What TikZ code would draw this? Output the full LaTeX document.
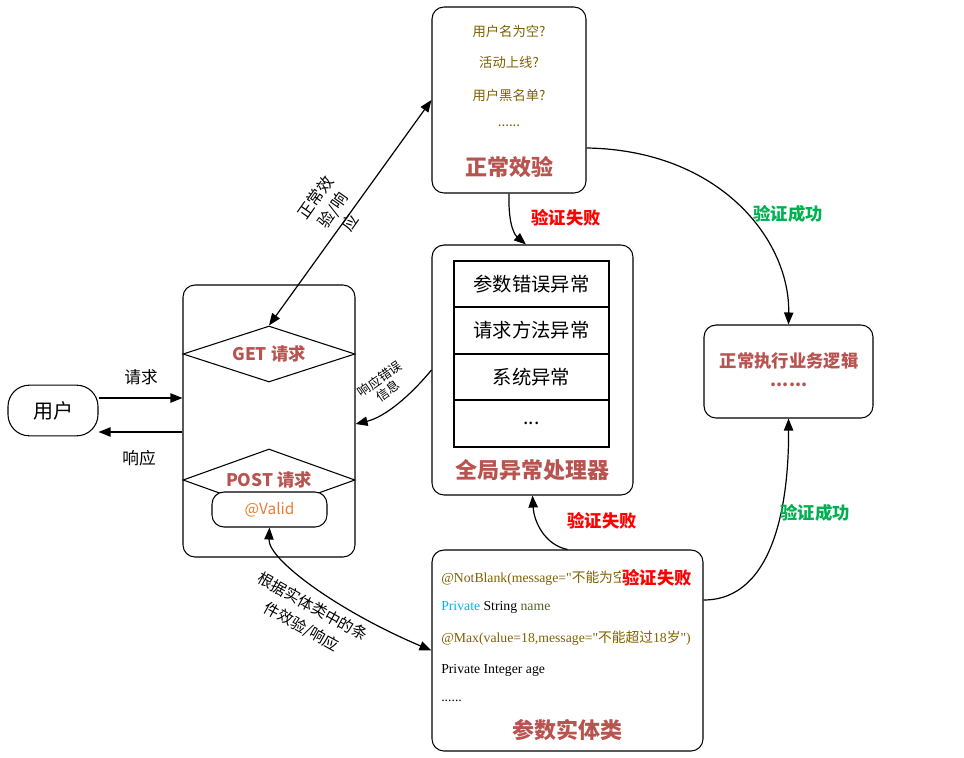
\documentclass[tikz,border=0pt]{standalone}
\usepackage{fontspec}
\setmainfont{Noto Sans CJK SC}
\newfontfamily\codefont{Liberation Serif}
\usetikzlibrary{arrows.meta,shapes.geometric,fit}
\definecolor{titlered}{HTML}{B85450}
\definecolor{failred}{HTML}{FF0000}
\definecolor{okgreen}{HTML}{00B050}
\definecolor{olivetxt}{HTML}{7F6000}
\definecolor{validorange}{HTML}{ED7D31}
\definecolor{privblue}{HTML}{00B0F0}
\definecolor{namegreen}{HTML}{4F6228}
\begin{document}
\begin{tikzpicture}[x=0.75pt,y=-0.75pt,
  box/.style={draw, rounded corners=9pt, inner sep=0pt, line width=0.8pt},
  cell/.style={draw, inner sep=0pt, line width=0.8pt},
  arr/.style={-{Triangle[length=9pt,width=7pt]}, line width=0.9pt},
  darr/.style={{Triangle[length=9pt,width=7pt]}-{Triangle[length=9pt,width=7pt]}, line width=0.9pt},
  boxtitle/.style={font=\fontsize{16.5}{18}\selectfont\bfseries, text=titlered, inner sep=0pt},
  smalltitle/.style={font=\fontsize{13}{15}\selectfont\bfseries, text=titlered, inner sep=0pt},
  fail/.style={font=\fontsize{13}{15}\selectfont\bfseries, text=failred, inner sep=0pt},
  ok/.style={font=\fontsize{13}{15}\selectfont\bfseries, text=okgreen, inner sep=0pt},
  checktxt/.style={font=\fontsize{10}{12}\selectfont, text=olivetxt, inner sep=0pt},
  celltxt/.style={font=\fontsize{14.5}{16}\selectfont, inner sep=0pt},
  lbl/.style={font=\fontsize{12.5}{14}\selectfont, inner sep=0pt},
  code/.style={font=\fontsize{10.3}{12}\selectfont\codefont, anchor=west, inner sep=0pt}]
\useasboundingbox (0,0) rectangle (964,757);

% ---- normal check box
\node[box, fit={(432,7) (586,193)}] (check) {};
\node[checktxt] (c1) at (509,31) {用户名为空?};
\node[checktxt] (c2) at (509,62) {活动上线?};
\node[checktxt] (c3) at (509,95) {用户黑名单?};
\node[checktxt] (c4) at (509,126) {......};
\node[boxtitle] (checkt) at (509,167) {正常效验};

% ---- global exception handler
\node[box, fit={(432,245) (633,495)}] (exc) {};
\node[cell, fit={(454,261) (609,307)}] (r1) {};
\node[cell, fit={(454,307) (609,354)}] (r2) {};
\node[cell, fit={(454,354) (609,400)}] (r3) {};
\node[cell, fit={(454,400) (609,447)}] (r4) {};
\node[celltxt] at (r1) {参数错误异常};
\node[celltxt] at (r2) {请求方法异常};
\node[celltxt] at (r3) {系统异常};
\node[celltxt] at (r4) {...};
\node[boxtitle] (exct) at (532,470) {全局异常处理器};

% ---- left controller box
\node[box, fit={(183,285) (355,557)}] (left) {};
\node[diamond, draw, line width=0.8pt, minimum width=129pt, minimum height=42pt, inner sep=0pt] (get) at (269,354) {};
\node[smalltitle] at (get) {GET 请求};
\node[diamond, draw, line width=0.8pt, minimum width=129pt, minimum height=46.5pt, inner sep=0pt] (post) at (269,480) {};
\node[smalltitle] at (post) {POST 请求};
\node[box, fill=white, fit={(212,492) (327,527)}] (valid) {};
\node[font=\fontsize{11.5}{13}\selectfont, text=validorange, inner sep=0pt] at (valid) {@Valid};

% ---- user
\node[draw, line width=0.8pt, rounded corners=16pt, minimum width=67.5pt, minimum height=38pt, inner sep=0pt,
      font=\fontsize{15}{17}\selectfont] (user) at (53,410.5) {用户};
\draw[arr] (user.east |- 0,398) -- (left.west |- 0,398);
\draw[arr] (left.west |- 0,432) -- (user.east |- 0,432);
\node[lbl] (req) at (141,377) {请求};
\node[lbl] (resp) at (139,458) {响应};

% ---- normal business logic
\node[box, fit={(704,325) (873,418)}] (normal) {};
\node[smalltitle] at (789,361) {正常执行业务逻辑};
\node[smalltitle] at (789,385) {......};

% ---- entity class
\node[box, fit={(432,550) (703,751)}] (ent) {};
\node[code, text=olivetxt] (e1) at (441,578) {@NotBlank(message="{\rmfamily 不能为空}"};
\node[fail, fill=white, inner sep=1pt] at (657,578) {验证失败};
\node[code] (e2) at (441,607) {{\color{privblue}Private} String {\color{namegreen}name}};
\node[code, text=olivetxt] (e3) at (441,638) {@Max(value=18,message="{\rmfamily 不能超过}18{\rmfamily 岁}")};
\node[code] (e4) at (441,670) {Private Integer age};
\node[code] (e5) at (441,701) {......};
\node[boxtitle] (entt) at (567,730) {参数实体类};

% ---- connectors
\draw[darr] (get.north) -- (check.west);
\node[font=\fontsize{12}{16}\selectfont, inner sep=0pt, rotate=55, align=center] at (333,210) {正常效\\验/响\\应};

\draw[arr] (check.south) .. controls (508,228) and (516,236) .. (exc.north -| 526,0);
\node[fail] at (566,218) {验证失败};

\draw[arr] (check.east |- 0,148) .. controls (720,150) and (790,240) .. (normal.north);
\node[ok] at (788,214) {验证成功};

\draw[arr] (exc.west) .. controls (410,396) and (385,417) .. (left.east |- 0,424);
\node[font=\fontsize{9.5}{11}\selectfont, rotate=35, align=center, inner sep=0pt] at (384,385) {响应错误\\信息};

\draw[arr] (ent.north) .. controls (545,545) and (534,522) .. (exc.south);
\node[fail] at (602,521) {验证失败};

\draw[arr] (ent.east |- 0,600) .. controls (775,600) and (789,500) .. (normal.south);
\node[ok] at (815,513) {验证成功};

\draw[darr] (valid.south) .. controls (268,560) and (340,612) .. (ent.west);
\node[font=\fontsize{11.5}{17}\selectfont, inner sep=0pt, rotate=-29, align=center] at (307,617) {根据实体类中的条\\件效验/响应};
\end{tikzpicture}
\end{document}
